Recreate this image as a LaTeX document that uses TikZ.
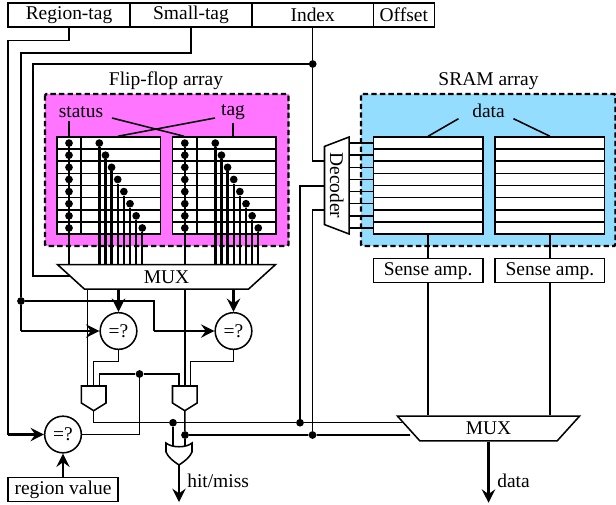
\documentclass[tikz,border=0pt]{standalone}
\usepackage{fontspec}
\setmainfont{Liberation Serif}
\usepackage{tikz}
\usetikzlibrary{arrows.meta,shapes.geometric}
\definecolor{ffpink}{HTML}{FF75FF}
\definecolor{srblue}{HTML}{94DDFF}

\begin{document}
\begin{tikzpicture}[
    x=0.75pt, y=-0.75pt,
    every node/.style={font=\fontsize{14.6}{16}\selectfont, inner sep=0pt},
    wire/.style={line width=1.15pt},
    bus/.style={line width=1.8pt},
    arrow/.style={-{Stealth[length=10pt, width=10pt, inset=3.5pt]}, line width=1.8pt},
    field/.style={draw, line width=1.15pt, minimum height=18pt},
    region/.style={draw, line width=1.8pt, dash pattern=on 4pt off 2.4pt, rounded corners=1pt},
    cell/.style={draw, line width=1.15pt, fill=white, minimum height=72.75pt},
    sense/.style={draw, line width=1.15pt, fill=white, minimum width=82.2pt, minimum height=18pt},
    mux/.style={draw, line width=1.15pt, fill=white, trapezium, shape border rotate=180, trapezium stretches=true},
    cmp/.style={draw, line width=1.15pt, fill=white, circle, minimum size=27.5pt},
    dot/.style={circle, fill=black, minimum size=5.8pt}
]
\useasboundingbox (0,0) rectangle (616,504);

% Address fields
\node[field, minimum width=91.5pt] (fRegion) at (69, 15) {Region-tag};
\node[field, minimum width=91.5pt] (fSmall) at (191, 15) {Small-tag};
\node[field, minimum width=91pt] (fIndex) at (312.7, 15) {Index};
\node[field, minimum width=45.7pt] (fOffset) at (403.8, 15) {Offset};

% Flip-flop array
\fill[ffpink] (45,94) rectangle (288.5,246);
\draw[region] (45,94) rectangle (288.5,246);
\node (ffTitle) at (166, 81) {Flip-flop array};
\node[cell, minimum width=77.6pt] (ffA) at (108.8, 185.5) {};
\node[cell, minimum width=77.6pt] (ffB) at (224.4, 185.5) {};
\node (lbStatus) at (81, 112) {status};
\node (lbTag) at (233, 112) {tag};
\coordinate (stEnd) at (112, 118);
\coordinate (tgEnd) at (215, 118);
\draw[wire] (lbStatus.south -| 69,0) ++(0,3) -- (ffA.north -| 69,0);
\draw[wire] (lbTag.south) ++(0,3) -- (ffB.north -| lbTag);
\draw[wire] (stEnd) -- (ffB.north -| 184,0);
\draw[wire] (tgEnd) -- (ffA.north -| 118,0);
\draw[wire] (81,137) -- (81,234);
\draw[wire] (197,137) -- (197,234);
\foreach \r in {1,...,7} {
    \draw[wire] (57,{137+12.125*\r}) -- (160.5,{137+12.125*\r});
    \draw[wire] (172.7,{137+12.125*\r}) -- (276,{137+12.125*\r});
}

% SRAM array
\fill[srblue] (361,94) rectangle (615.5,246);
\draw[region] (361,94) rectangle (615.5,246);
\node (srTitle) at (488.5, 81) {SRAM array};
\node[cell, minimum width=82.2pt] (srA) at (428.1, 185.5) {};
\node[cell, minimum width=82.2pt] (srB) at (549.9, 185.5) {};
\node (lbData) at (488.5, 111) {data};
\coordinate (dtA) at (458.5, 118.7);
\coordinate (dtB) at (513.5, 118.7);
\draw[wire] (dtA) -- (srA.north);
\draw[wire] (dtB) -- (srB.north);
\foreach \r in {1,...,7} {
    \draw[wire] (373.3,{137+12.125*\r}) -- (483,{137+12.125*\r});
    \draw[wire] (495,{137+12.125*\r}) -- (605,{137+12.125*\r});
}

% Muxes and decoder
\node[mux, minimum width=164.2pt, minimum height=18.4pt] (muxTag) at (166.5, 276.8) {MUX};
\node[mux, minimum width=137.2pt, minimum height=18.7pt] (muxData) at (488.5, 428.5) {MUX};
\node[mux, rotate=-90, minimum width=72.75pt, minimum height=18.4pt] (decoder) at (336.75, 185.5) {Decoder};
\node[sense] (saA) at (428.1, 270.7) {Sense amp.};
\node[sense] (saB) at (549.9, 270.7) {Sense amp.};

% Dots and their lines down to the MUX
\foreach \r in {0,...,7} {
    \node[dot] (stA\r) at (69, {143.1+12.125*\r}) {};
    \node[dot] (stB\r) at (184.8, {143.1+12.125*\r}) {};
    \node[dot] (tgA\r) at ({99.3+6.14*\r}, {143.1+12.125*\r}) {};
    \node[dot] (tgB\r) at ({215.3+6.14*\r}, {143.1+12.125*\r}) {};
    \draw[bus] (tgA\r) -- (tgA\r |- muxTag.north);
    \draw[bus] (tgB\r) -- (tgB\r |- muxTag.north);
    \draw[wire] (decoder.north |- 0,{143.1+12.125*\r}) -- (srA.west |- 0,{143.1+12.125*\r});
}
\draw[bus] (stA0) -- (stA0 |- muxTag.north);
\draw[bus] (stB0) -- (stB0 |- muxTag.north);

% Sense amps
\draw[wire] (srA) -- (saA);
\draw[wire] (srB) -- (saB);
\draw[wire] (saA) -- (saA |- muxData.north);
\draw[wire] (saB) -- (saB |- muxData.north);
\draw[arrow] (muxData.south) -- ++(0,61);
\node[anchor=west] (lbOut) at (497, 481) {data};

% Comparators
\node[cmp] (cmpA) at (118.5, 331) {=?};
\node[cmp] (cmpB) at (233.5, 331) {=?};
\node[cmp] (cmpR) at (63, 434.5) {=?};
\node[draw, line width=1.15pt, minimum width=82.5pt, minimum height=18pt] (regVal) at (63, 489.7) {region value};
\draw[arrow] (regVal) -- (cmpR);
\draw[arrow] (muxTag.south -| cmpA) -- (cmpA);
\draw[arrow] (muxTag.south -| cmpB) -- (cmpB);

% Tag wires from the address
\coordinate (inIdx) at (33, 276);
\coordinate (decIn) at (324, 161);
\coordinate (decA) at (324, 186);
\coordinate (decB) at (324, 210);
\node[dot] (idxDot) at (fIndex.south |- 0,64) {};
\node[dot] (smDot) at (21, 301) {};
\draw[wire] (fRegion.south) -- ++(0,12.5) -| (8,434.5);
\draw[arrow] (8,434.5) -- (cmpR);
\draw[wire] (fSmall.south) -- ++(0,25) -| (smDot);
\draw[wire] (smDot) -- (21,331);
\draw[arrow] (21,331) -- (cmpA);
\draw[wire] (smDot) -| (154,331);
\draw[arrow] (154,331) -- (cmpB);
\draw[wire] (fIndex.south) -- (idxDot);
\draw[wire] (idxDot) -| (inIdx) -- (muxTag.west |- inIdx);
\draw[wire] (idxDot) |- (decIn);

% AND gates
\foreach \g/\x in {A/93.7, B/184.8} {
    \draw[wire, fill=white] ({\x-12.3},386) -- ({\x+12.3},386) -- ({\x+12.3},403) -- (\x,410.7) -- ({\x-12.3},403) -- cycle;
    \coordinate (and\g) at (\x,410.7);
}
\draw[wire] (cmpA) -- (cmpA |- 0,361.7) -| (93.7,386);
\draw[wire] (cmpB) -- (cmpB |- 0,361.7) -| (190.3,386);
\node[dot] (regDot) at (139.5, 374) {};
\draw[wire] (cmpR) -| (regDot);
\draw[wire] (99.7,386) |- (regDot);
\draw[wire] (179.1,386) |- (regDot);
\draw[wire] (87.7,289) -- (87.7,386);
\draw[wire] (muxTag.south -| stB0) -- (184.8,386);

% OR gate and hit wires
\node[dot] (hitA) at (173, 422.7) {};
\node[dot] (hitB) at (185, 435) {};
\node[dot] (hitC) at (300, 422.7) {};
\node[dot] (hitD) at (312.5, 435) {};
\coordinate (muxInA) at (402, 422.7);
\coordinate (muxInB) at (410, 435);
\draw[wire] (andA) |- (hitA) -- (hitC) -- (muxInA);
\draw[wire] (andB) -- (hitB) -- (hitD) -- (muxInB);
\draw[wire] (decA) -- (300,186) -- (hitC);
\draw[wire] (decB) -- (312.5,210) -- (hitD);
\draw[wire] (hitA) -- (173,446);
\draw[wire] (hitB) -- (185,446);
\draw[wire, fill=white] (166,443) .. controls (172,448) and (186,448) .. (192,443) -- (192,452) .. controls (190,457) and (185,461) .. (179,465) .. controls (173,461) and (168,457) .. (166,452) -- cycle;
\coordinate (orOut) at (179,465);
\draw[arrow] (orOut) -- ++(0,37);
\node[anchor=west] (lbHit) at (187, 481) {hit/miss};

\end{tikzpicture}
\end{document}
